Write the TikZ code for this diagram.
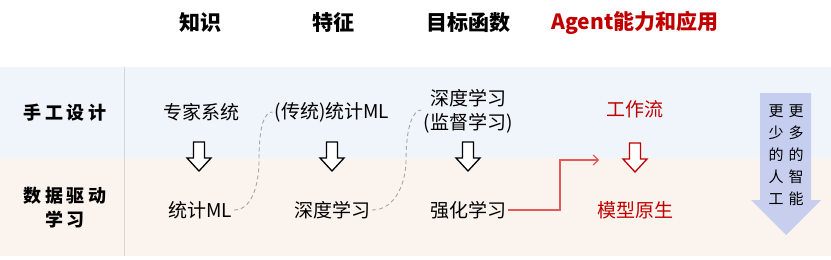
\documentclass[tikz,border=0pt]{standalone}
\usepackage{fontspec}
\newfontfamily\cjk{Noto Sans CJK SC}
\usetikzlibrary{arrows.meta}
\definecolor{bandblue}{RGB}{240,244,251}
\definecolor{bandpeach}{RGB}{251,243,238}
\definecolor{darkred}{RGB}{192,0,0}
\definecolor{linkred}{RGB}{226,90,90}
\definecolor{bigarrow}{RGB}{190,200,238}
\definecolor{divider}{RGB}{215,215,215}
\tikzset{
  head/.style={font=\cjk\bfseries\fontsize{21}{24}\selectfont, inner sep=2pt},
  rowlab/.style={font=\cjk\bfseries\fontsize{18}{24}\selectfont, inner sep=2pt, align=center},
  body/.style={font=\cjk\fontsize{19}{24}\selectfont, inner sep=2pt, align=center},
  side/.style={font=\cjk\fontsize{15}{22}\selectfont, inner sep=0pt, align=center},
  gdash/.style={draw=gray!70, line width=0.9pt, dash pattern=on 4pt off 3pt},
  redlink/.style={draw=linkred, line width=1.2pt, -{Straight Barb[length=5pt,width=10pt,line width=1.2pt]}},
  pics/hollowdown/.style={code={
    \draw[line width=1.3pt, fill=white, line join=miter, #1]
      (-5.5,0) -- (5.5,0) -- (5.5,16) -- (12,16) -- (0,29) -- (-12,16) -- (-5.5,16) -- cycle;}},
}
\begin{document}
\begin{tikzpicture}[x=1pt,y=-1pt]
\useasboundingbox (0,0) rectangle (831,260);
% bands
\fill[bandblue] (0,67) rectangle (831,158);
\fill[bandpeach] (0,158) rectangle (831,256);
\draw[divider, line width=0.8pt] (124,67) -- (124,256);
% headers
\node[head] (h1) at (200,23) {知识};
\node[head] (h2) at (333,23) {特征};
\node[head] (h3) at (468,23) {目标函数};
\node[head, text=darkred] (h4) at (635,23) {Agent能力和应用};
% row labels
\node[rowlab] (r1) at (65,113) {手\hspace{3.5pt}工\hspace{3.5pt}设\hspace{3.5pt}计};
\node[rowlab] (r2) at (65,208) {数\hspace{3.5pt}据\hspace{3.5pt}驱\hspace{3.5pt}动\\学\hspace{3.5pt}习};
% top row
\node[body] (zj) at (201,112) {专家系统};
\node[body] (ct) at (332,112) {(传统)统计ML};
\node[body] (sd) at (468,111) {深度学习\\(监督学习)};
\node[body, text=darkred] (gz) at (635,109) {工作流};
% bottom row
\node[body] (tj) at (200,210) {统计ML};
\node[body] (sx) at (332,210) {深度学习};
\node[body] (qh) at (468,210) {强化学习};
\node[body, text=darkred] (mx) at (635,210) {模型原生};
% hollow arrows
\pic at (199,142) {hollowdown={draw=black}};
\pic at (332,142) {hollowdown={draw=black}};
\pic at (468,142) {hollowdown={draw=black}};
\pic at (635,143) {hollowdown={draw=darkred}};
% dashed links
\coordinate (m1) at (259,161);
\coordinate (m2) at (406,161);
\draw[gdash] (tj.east) .. controls +(20,0) and +(0,18) .. (m1)
  .. controls +(0,-36) and +(-8,0) .. (ct.west);
\draw[gdash] (sx.east) .. controls +(25,0) and +(0,18) .. (m2)
  .. controls +(0,-36) and +(-8,0) .. ([yshift=1pt]sd.west);
% red link
\coordinate (rc) at (560,160);
\coordinate (rt) at (599,160);
\draw[redlink] (qh.east) -| (rc) -- (rt);
% big arrow
\fill[bigarrow, fill opacity=0.85] (760,93) -- (811,93) -- (811,200) -- (821,200) -- (786,235) -- (751,200) -- (760,200) -- cycle;
\node[side] (sl) at (776,155) {更\\少\\的\\人\\工};
\node[side] (sr) at (796,155) {更\\多\\的\\智\\能};
\end{tikzpicture}
\end{document}
